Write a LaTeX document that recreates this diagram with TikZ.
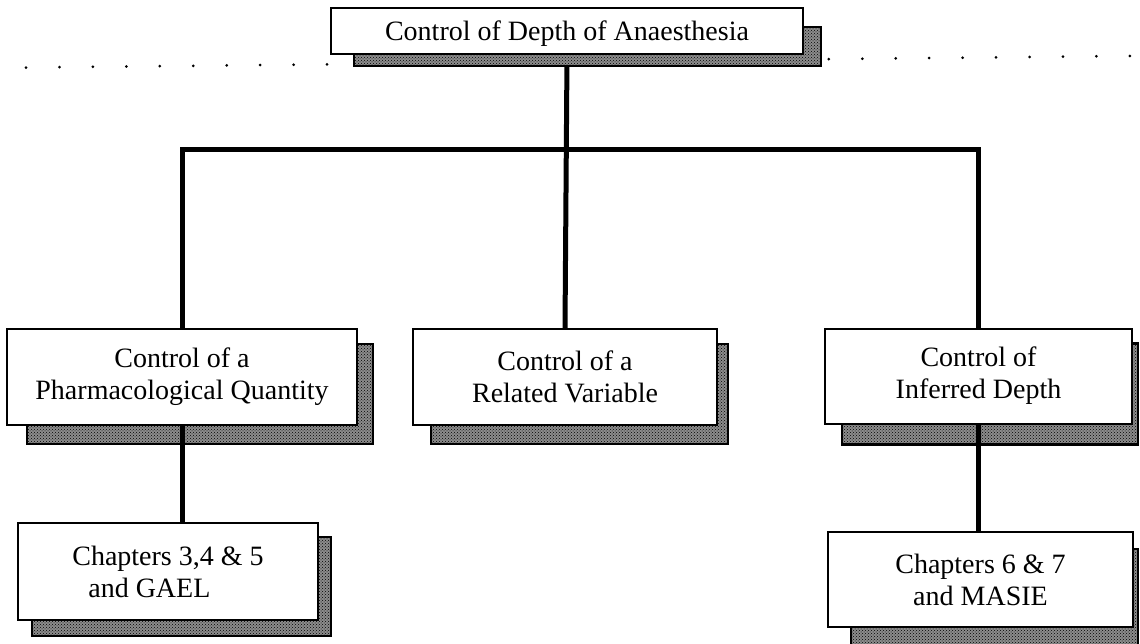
\documentclass[tikz,border=0pt]{standalone}
\usepackage{fontspec}
\setmainfont{Liberation Serif}
\usetikzlibrary{patterns}

\tikzset{
  box/.style={draw=black, line width=2pt, fill=white, rectangle, inner sep=0pt,
              align=center, font=\fontsize{28}{32}\selectfont},
  link/.style={draw=black, line width=5pt},
  shade/.style={pattern=crosshatch dots, pattern color=black},
  shadeedge/.style={draw=black, line width=2.5pt},
}

% shadow rectangle behind a node: #2 left, #3 top, #4 right, #5 bottom offsets
\newcommand{\dropshadow}[5]{%
  \fill[black!45] ([shift={(#2,#5)}]#1.south west) rectangle ([shift={(#4,#3)}]#1.north east);
  \fill[shade] ([shift={(#2,#5)}]#1.south west) rectangle ([shift={(#4,#3)}]#1.north east);
  \draw[shadeedge] ([shift={(#2,#5)}]#1.south west) rectangle ([shift={(#4,#3)}]#1.north east);
}

\begin{document}
\begin{tikzpicture}[x=1pt, y=-1pt]
\useasboundingbox (0,0) rectangle (1140,644);

% dotted guide line across the top
\foreach \k in {0,...,33}{
  \pgfmathsetmacro{\px}{26+33.45*\k}
  \fill (\px, {67.8-0.0105*\px}) circle (1.5);
}

% nodes (placed first so connectors can use their anchors)
\path
  node[box, minimum width=472, minimum height=46, text depth=0pt] (top) at (567,31) {Control of Depth of Anaesthesia}
  node[box, minimum width=350, minimum height=96] (pharm) at (182,377) {Control of a\\Pharmacological Quantity}
  node[box, minimum width=304, minimum height=96] (rel) at (565,377) {Control of a\\Related Variable}
  node[box, minimum width=307, minimum height=95] (inf) at (978.5,376) {Control of\\Inferred Depth}
  node[box, minimum width=300, minimum height=97, align=left] (ch1) at (168,571.5) {Chapters 3,4 \& 5\\\hspace*{16pt}and GAEL}
  node[box, minimum width=305, minimum height=95] (ch2) at (980.5,579.5) {Chapters 6 \& 7\\and MASIE};

\coordinate (bar) at (0,150);

% upper tree connectors
\draw[link] (top.south) -- (rel.north);
\draw[link, line cap=rect] (pharm.north) -- (pharm.north |- bar) -- (inf.north |- bar) -- (inf.north);

% shadows
\dropshadow{top}{24}{20}{17}{11}
\dropshadow{pharm}{21}{16}{15}{18}
\dropshadow{rel}{19}{16}{10}{18}
\dropshadow{inf}{18}{16}{5}{20}
\dropshadow{ch1}{15}{15}{12}{15}
\dropshadow{ch2}{24}{18}{4}{18}

% lower connectors
\draw[link] (pharm.south) -- (pharm.south |- ch1.north);
\draw[link] (inf.south) -- (inf.south |- ch2.north);

% boxes drawn over the shadows and connectors
\node[box, minimum width=472, minimum height=46, text depth=0pt] at (top) {Control of Depth of Anaesthesia};
\node[box, minimum width=350, minimum height=96] at (pharm) {Control of a\\Pharmacological Quantity};
\node[box, minimum width=304, minimum height=96] at (rel) {Control of a\\Related Variable};
\node[box, minimum width=307, minimum height=95] at (inf) {Control of\\Inferred Depth};
\node[box, minimum width=300, minimum height=97, align=left] at (ch1) {Chapters 3,4 \& 5\\\hspace*{16pt}and GAEL};
\node[box, minimum width=305, minimum height=95] at (ch2) {Chapters 6 \& 7\\and MASIE};
\end{tikzpicture}
\end{document}
